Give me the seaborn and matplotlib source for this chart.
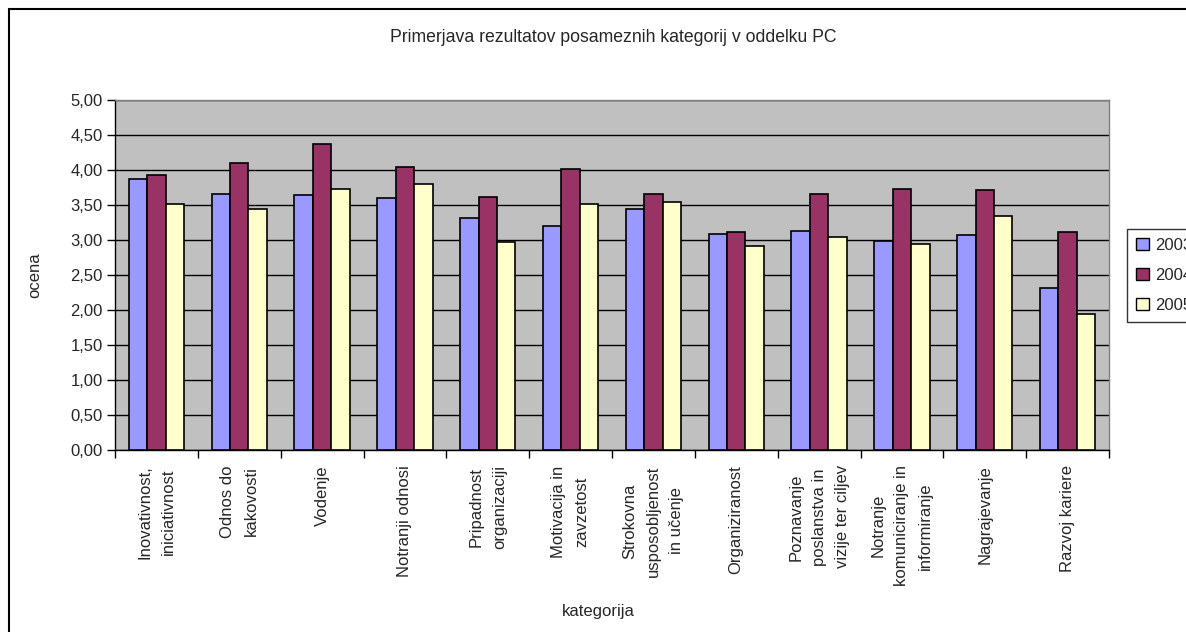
import matplotlib
matplotlib.use("Agg")
import matplotlib.pyplot as plt
from matplotlib.patches import Rectangle, Patch
from matplotlib.ticker import FuncFormatter, MultipleLocator, FixedLocator
import numpy as np
import pandas as pd
import seaborn as sns

categories = [
    "Inovativnost,\niniciativnost",
    "Odnos do\nkakovosti",
    "Vodenje",
    "Notranji odnosi",
    "Pripadnost\norganizaciji",
    "Motivacija in\nzavzetost",
    "Strokovna\nusposobljenost\nin učenje",
    "Organiziranost",
    "Poznavanje\nposlanstva in\nvizije ter ciljev",
    "Notranje\nkomuniciranje in\ninformiranje",
    "Nagrajevanje",
    "Razvoj kariere",
]
years = ["2003", "2004", "2005"]
scores_2003 = [3.87, 3.66, 3.64, 3.60, 3.31, 3.20, 3.45, 3.08, 3.13, 2.99, 3.07, 2.32]
scores_2004 = [3.93, 4.10, 4.37, 4.05, 3.61, 4.01, 3.66, 3.11, 3.66, 3.73, 3.71, 3.11]
scores_2005 = [3.52, 3.45, 3.73, 3.80, 2.97, 3.52, 3.54, 2.92, 3.04, 2.95, 3.34, 1.95]
colors = ["#9999FF", "#993366", "#FFFFCC"]

df = pd.DataFrame({
    "kategorija": categories * 3,
    "ocena": scores_2003 + scores_2004 + scores_2005,
    "leto": [y for y in years for _ in categories],
})

sns.set_theme(style="white")
plt.rcParams["font.family"] = ["Liberation Sans", "DejaVu Sans"]

W, H = 1186, 632
fig = plt.figure(figsize=(W / 100, H / 100), dpi=100)
fig.patch.set_facecolor("white")

ax = fig.add_axes([115 / W, 1 - 450 / H, (1109 - 115) / W, (450 - 100) / H])
ax.set_facecolor("#C0C0C0")

sns.barplot(data=df, x="kategorija", y="ocena", hue="leto", palette=colors,
            edgecolor="black", linewidth=1.2, width=0.667, gap=0,
            saturation=1, ax=ax, legend=False, zorder=3)

ax.set_xlim(-0.5, len(categories) - 0.5)
ax.set_ylim(0, 5)
ax.yaxis.set_major_locator(MultipleLocator(0.5))
ax.yaxis.set_major_formatter(FuncFormatter(lambda v, p: f"{v:.2f}".replace(".", ",")))
ax.grid(axis="y", color="black", linewidth=1.0, zorder=0)
ax.grid(axis="x", visible=False)
ax.set_axisbelow(True)

for side in ("left", "bottom"):
    ax.spines[side].set_color("black")
    ax.spines[side].set_linewidth(1.0)
for side in ("top", "right"):
    ax.spines[side].set_color("#808080")
    ax.spines[side].set_linewidth(1.0)

ax.tick_params(axis="y", which="major", direction="out", length=6, width=1,
               color="black", labelsize=12, pad=3, left=True)
ax.set_xticks(range(len(categories)))
ax.set_xticklabels(categories, rotation=90, fontsize=12, va="top", ha="center",
                   multialignment="center", linespacing=1.7)
ax.tick_params(axis="x", which="major", length=0, pad=11)
ax.xaxis.set_minor_locator(FixedLocator(np.arange(-0.5, len(categories) + 0.5, 1.0)))
ax.tick_params(axis="x", which="minor", direction="out", length=6, width=1,
               color="black", bottom=True)

ax.set_xlabel("kategorija", fontsize=12)
ax.xaxis.set_label_coords((598 - 115) / (1109 - 115), -(604 - 450) / (450 - 100))
ax.set_ylabel("ocena", fontsize=12)
ax.yaxis.set_label_coords(-(115 - 42) / (1109 - 115), 0.5)

fig.text(613 / W, 1 - 37 / H, "Primerjava rezultatov posameznih kategorij v oddelku PC",
         ha="center", va="center", fontsize=12.7)

handles = [Patch(facecolor=c, edgecolor="black", linewidth=1) for c in colors]
leg = fig.legend(handles, years, loc="upper left",
                 bbox_to_anchor=(1127 / W, 1 - 229 / H), borderaxespad=0,
                 frameon=True, fancybox=False, edgecolor="black", fontsize=12,
                 handlelength=0.75, handleheight=0.75, handletextpad=0.4,
                 labelspacing=0.9, borderpad=0.55)
leg.get_frame().set_linewidth(1.0)

fig.patches.append(Rectangle((9 / W, -0.1), 1.2, 1.1 - 9 / H, transform=fig.transFigure,
                             fill=False, edgecolor="black", linewidth=1.5))

fig.savefig("out.png", dpi=100)
